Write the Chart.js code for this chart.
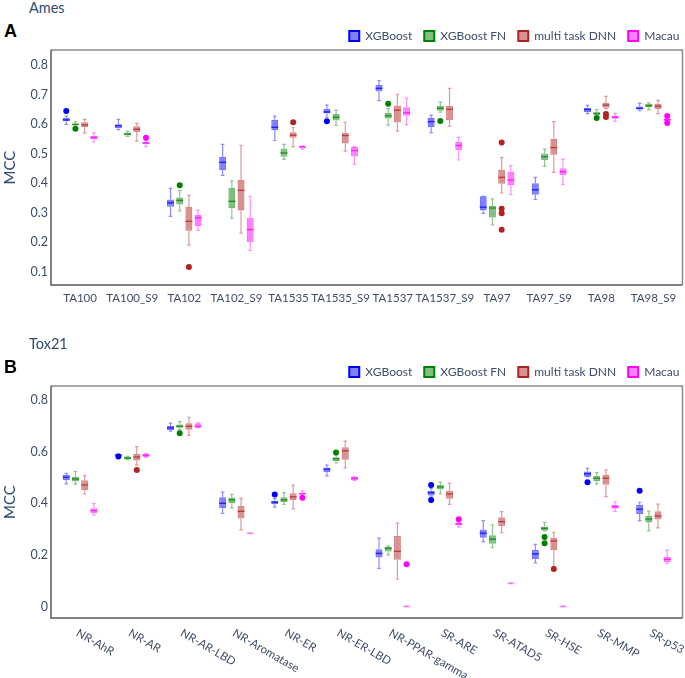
<!DOCTYPE html>
<html>
<head>
<meta charset="utf-8">
<script src="https://cdn.jsdelivr.net/npm/chart.js@4.4.1/dist/chart.umd.min.js"></script>
<style>
  html, body { margin: 0; padding: 0; background: #ffffff; }
  #page { position: relative; width: 685px; height: 678px; overflow: hidden; background: #fff; }
  .box { position: absolute; left: 0; width: 685px; }
  .ptitle { position: absolute; left: 29px; font: 14.5px Lato, "Open Sans", sans-serif; line-height: 16px; color: #2f4b72; }
  .letter { position: absolute; left: 4px; font: bold 18px "Liberation Sans", Arial, sans-serif; line-height: 18px; color: #000; }
</style>
</head>
<body>
<div id="page">
  <div class="ptitle" style="top:0px">Ames</div>
  <div class="letter" style="top:22px">A</div>
  <div class="box" style="top:0px;height:336px"><canvas id="chartA"></canvas></div>
  <div class="ptitle" style="top:336px">Tox21</div>
  <div class="letter" style="top:358px">B</div>
  <div class="box" style="top:336px;height:342px"><canvas id="chartB"></canvas></div>
</div>
<script>
// ---------------- Panel A: Ames ----------------
const amesCategories = ['TA100','TA100_S9','TA102','TA102_S9','TA1535','TA1535_S9','TA1537','TA1537_S9','TA97','TA97_S9','TA98','TA98_S9'];
const amesYTicks = [0.1,0.2,0.3,0.4,0.5,0.6,0.7,0.8];
// each entry: [lower whisker, Q1, median, Q3, upper whisker]
const amesXGBoost = [
  [0.600,0.610,0.615,0.622,0.628],[0.582,0.587,0.595,0.600,0.617],[0.288,0.320,0.334,0.345,0.383],[0.427,0.444,0.471,0.490,0.532],
  [0.545,0.580,0.590,0.615,0.628],[0.624,0.637,0.642,0.653,0.665],[0.680,0.711,0.722,0.733,0.748],[0.572,0.590,0.609,0.622,0.631],
  [0.298,0.308,0.319,0.356,0.356],[0.345,0.361,0.378,0.400,0.420],[0.636,0.642,0.650,0.656,0.664],[0.646,0.650,0.654,0.660,0.671]];
const amesXGBoostOut = [[0.645],[],[],[],[],[0.610],[],[],[],[],[],[]];
const amesXGBoostFN = [
  [0.595,0.597,0.600,0.602,0.608],[0.559,0.562,0.567,0.572,0.576],[0.306,0.328,0.342,0.352,0.376],[0.282,0.315,0.339,0.385,0.407],
  [0.481,0.490,0.503,0.518,0.532],[0.596,0.613,0.624,0.635,0.648],[0.597,0.620,0.629,0.638,0.653],[0.641,0.646,0.654,0.663,0.675],
  [0.259,0.284,0.316,0.323,0.347],[0.457,0.479,0.490,0.501,0.516],[0.628,0.631,0.637,0.641,0.650],[0.649,0.658,0.663,0.669,0.673]];
const amesXGBoostFNOut = [[0.585],[],[0.393],[],[],[],[0.670],[0.611],[],[],[0.621],[]];
const amesDNN = [
  [0.570,0.590,0.598,0.607,0.617],[0.543,0.574,0.583,0.593,0.603],[0.190,0.239,0.271,0.320,0.359],[0.231,0.308,0.376,0.411,0.529],
  [0.524,0.554,0.563,0.573,0.590],[0.509,0.535,0.562,0.571,0.607],[0.577,0.606,0.648,0.664,0.702],[0.594,0.615,0.651,0.662,0.722],
  [0.367,0.398,0.420,0.447,0.487],[0.437,0.497,0.521,0.551,0.609],[0.653,0.656,0.665,0.673,0.695],[0.636,0.652,0.661,0.670,0.681]];
const amesDNNOut = [[],[],[0.116],[],[0.607],[],[],[],[0.538,0.314,0.298,0.242],[],[0.635,0.625],[]];
const amesMacau = [
  [0.540,0.549,0.555,0.560,0.571],[0.524,0.532,0.537,0.541,0.545],[0.240,0.254,0.283,0.292,0.309],[0.172,0.201,0.243,0.282,0.356],
  [0.516,0.521,0.523,0.526,0.527],[0.464,0.491,0.511,0.524,0.524],[0.599,0.629,0.639,0.658,0.689],[0.479,0.512,0.528,0.541,0.556],
  [0.362,0.393,0.411,0.440,0.460],[0.396,0.427,0.439,0.451,0.482],[0.610,0.619,0.624,0.628,0.636],[0.610,0.611,0.616,0.619,0.620]];
const amesMacauOut = [[],[0.554],[],[],[],[],[],[],[],[],[],[0.628,0.604]];

// ---------------- Panel B: Tox21 ----------------
const toxCategories = ['NR-AhR','NR-AR','NR-AR-LBD','NR-Aromatase','NR-ER','NR-ER-LBD','NR-PPAR-gamma','SR-ARE','SR-ATAD5','SR-HSE','SR-MMP','SR-p53'];
const toxYTicks = [0,0.2,0.4,0.6,0.8];
const toxXGBoost = [
  [0.475,0.490,0.501,0.510,0.516],[0.584,0.585,0.587,0.589,0.590],[0.679,0.684,0.692,0.699,0.710],[0.361,0.381,0.400,0.423,0.443],
  [0.385,0.397,0.404,0.410,0.419],[0.506,0.520,0.532,0.539,0.548],[0.148,0.190,0.206,0.222,0.265],[0.428,0.430,0.441,0.449,0.458],
  [0.252,0.267,0.284,0.299,0.333],[0.169,0.183,0.204,0.219,0.241],[0.503,0.503,0.514,0.523,0.535],[0.333,0.359,0.377,0.394,0.404]];
const toxXGBoostOut = [[],[0.581],[],[],[0.434],[],[],[0.471,0.413],[],[],[0.481],[0.449]];
const toxXGBoostFN = [
  [0.474,0.485,0.494,0.503,0.523],[0.569,0.570,0.575,0.581,0.582],[0.684,0.692,0.698,0.705,0.716],[0.382,0.400,0.413,0.422,0.435],
  [0.396,0.405,0.413,0.423,0.441],[0.556,0.564,0.572,0.578,0.587],[0.200,0.213,0.226,0.232,0.235],[0.436,0.453,0.463,0.471,0.481],
  [0.228,0.243,0.261,0.276,0.317],[0.293,0.295,0.303,0.310,0.326],[0.475,0.486,0.497,0.506,0.519],[0.293,0.326,0.339,0.352,0.370]];
const toxXGBoostFNOut = [[],[],[0.671],[],[],[0.597],[],[],[],[0.270,0.245],[],[]];
const toxDNN = [
  [0.436,0.450,0.471,0.489,0.507],[0.548,0.566,0.579,0.591,0.619],[0.663,0.685,0.698,0.710,0.733],[0.297,0.341,0.369,0.390,0.419],
  [0.379,0.412,0.425,0.439,0.470],[0.537,0.569,0.603,0.617,0.641],[0.106,0.181,0.214,0.274,0.323],[0.396,0.418,0.436,0.448,0.477],
  [0.286,0.312,0.329,0.346,0.368],[0.155,0.219,0.254,0.267,0.288],[0.426,0.472,0.497,0.510,0.529],[0.305,0.337,0.351,0.369,0.397]];
const toxDNNOut = [[],[0.529],[],[],[],[],[],[],[],[0.146],[],[]];
const toxMacau = [
  [0.355,0.361,0.372,0.381,0.399],[0.578,0.579,0.586,0.591,0.592],[0.693,0.694,0.697,0.710,0.711],[0.284,0.284,0.284,0.284,0.284],
  [0.430,0.434,0.437,0.441,0.448],[0.489,0.489,0.497,0.503,0.503],[0.001,0.001,0.001,0.001,0.001],[0.308,0.315,0.320,0.324,0.326],
  [0.090,0.090,0.090,0.090,0.090],[0.001,0.001,0.001,0.001,0.001],[0.369,0.379,0.387,0.394,0.406],[0.166,0.173,0.183,0.192,0.219]];
const toxMacauOut = [[],[],[],[],[0.421],[],[0.164],[0.338],[],[],[],[]];

const seriesNames = ['XGBoost','XGBoost FN','multi task DNN','Macau'];
const seriesRGB = [[0,0,255],[0,128,0],[178,34,34],[255,0,255]];

const TEXT = '#3d4d6a';
const FONT = 'Lato, "Open Sans", sans-serif';
const rgba = (c,a) => `rgba(${c[0]},${c[1]},${c[2]},${a})`;

function makeDatasets(stats, outs) {
  return stats.map((s, k) => ({
    label: seriesNames[k],
    data: s.map(t => [t[1], t[3]]),
    boxStats: s,
    outliers: outs[k],
    rgb: seriesRGB[k],
    backgroundColor: rgba(seriesRGB[k], 0.5),
    borderColor: rgba(seriesRGB[k], 0.55),
    borderWidth: 1.3,
    borderSkipped: false,
    categoryPercentage: 0.706,
    barPercentage: 0.76
  }));
}

const boxPlugin = {
  id: 'boxWhiskers',
  beforeDatasetsDraw(chart) {
    const ctx = chart.ctx, y = chart.scales.y;
    chart.data.datasets.forEach((ds, d) => {
      const meta = chart.getDatasetMeta(d);
      meta.data.forEach((bar, i) => {
        const t = ds.boxStats[i];
        const x = bar.x, cw = bar.width * 0.5;
        ctx.save();
        ctx.strokeStyle = rgba(ds.rgb, 0.45);
        ctx.lineWidth = 1.2;
        ctx.beginPath();
        ctx.moveTo(x, y.getPixelForValue(t[4])); ctx.lineTo(x, y.getPixelForValue(t[3]));
        ctx.moveTo(x, y.getPixelForValue(t[1])); ctx.lineTo(x, y.getPixelForValue(t[0]));
        ctx.moveTo(x - cw/2, y.getPixelForValue(t[4])); ctx.lineTo(x + cw/2, y.getPixelForValue(t[4]));
        ctx.moveTo(x - cw/2, y.getPixelForValue(t[0])); ctx.lineTo(x + cw/2, y.getPixelForValue(t[0]));
        ctx.stroke();
        ctx.restore();
      });
    });
  },
  afterDatasetsDraw(chart) {
    const ctx = chart.ctx, y = chart.scales.y;
    chart.data.datasets.forEach((ds, d) => {
      const meta = chart.getDatasetMeta(d);
      meta.data.forEach((bar, i) => {
        const t = ds.boxStats[i];
        const x = bar.x, w = bar.width;
        const flat = t[0] === t[4];
        ctx.save();
        ctx.strokeStyle = flat ? rgba(ds.rgb, 0.35) : rgba(ds.rgb, 0.75);
        ctx.lineWidth = flat ? 2 : 1.4;
        ctx.beginPath();
        const ym = y.getPixelForValue(t[2]);
        ctx.moveTo(x - w/2, ym); ctx.lineTo(x + w/2, ym);
        ctx.stroke();
        ctx.fillStyle = rgba(ds.rgb, 1);
        (ds.outliers[i] || []).forEach(v => {
          ctx.beginPath();
          ctx.arc(x, y.getPixelForValue(v), 3, 0, Math.PI * 2);
          ctx.fill();
        });
        ctx.restore();
      });
    });
  },
  afterLayout(chart) {
    const lg = chart.legend;
    if (lg) { lg.left += 12; lg.right += 12; lg.top += 2; lg.bottom += 2; }
  },
  afterDraw(chart) {
    const ctx = chart.ctx, a = chart.chartArea;
    ctx.save();
    ctx.lineWidth = 1.5;
    ctx.strokeStyle = '#8a8a8a';
    ctx.beginPath();
    ctx.moveTo(a.left - 3, a.top); ctx.lineTo(a.right + 3, a.top); ctx.lineTo(a.right + 3, a.bottom);
    ctx.stroke();
    ctx.strokeStyle = '#5a5a5a';
    ctx.beginPath();
    ctx.moveTo(a.left - 3, a.top); ctx.lineTo(a.left - 3, a.bottom); ctx.lineTo(a.right + 3, a.bottom);
    ctx.stroke();
    if (chart.options.plugins.slantLabels) {
      const xs = chart.scales.x;
      ctx.fillStyle = TEXT;
      ctx.font = '11.5px ' + FONT;
      ctx.textAlign = 'left';
      ctx.textBaseline = 'top';
      chart.data.labels.forEach((lab, i) => {
        ctx.save();
        ctx.translate(xs.getPixelForValue(i), a.bottom + 9);
        ctx.rotate(Math.PI / 6);
        ctx.fillText(lab, 0, 0);
        ctx.restore();
      });
    }
    ctx.restore();
  }
};

function makeChart(id, labels, datasets, yMin, yMax, yTicks, slant, bottomPad) {
  return new Chart(document.getElementById(id), {
    type: 'bar',
    data: { labels, datasets },
    plugins: [boxPlugin],
    options: {
      responsive: true,
      maintainAspectRatio: false,
      animation: false,
      layout: { padding: { left: 0, right: 5.5, top: 16, bottom: bottomPad } },
      plugins: {
        slantLabels: slant,
        tooltip: { enabled: false },
        legend: {
          position: 'top',
          align: 'end',
          labels: {
            boxWidth: 10, boxHeight: 10, padding: 12, color: TEXT,
            font: { size: 12, family: FONT },
            generateLabels: (c) => c.data.datasets.map((ds, i) => ({
              text: ds.label, fillStyle: rgba(ds.rgb, 0.5), strokeStyle: rgba(ds.rgb, 1),
              lineWidth: 2, hidden: false, datasetIndex: i, fontColor: TEXT
            }))
          }
        }
      },
      scales: {
        x: {
          grid: { display: false, drawTicks: false },
          border: { display: false },
          ticks: { display: !slant, color: TEXT, font: { size: 11.5, family: FONT }, padding: 6, maxRotation: 0, minRotation: 0, autoSkip: false }
        },
        y: {
          min: yMin, max: yMax,
          grid: { display: false, drawTicks: false },
          border: { display: false },
          afterFit: (s) => { s.width = 54; },
          afterBuildTicks: (s) => { s.ticks = yTicks.map(v => ({ value: v })); },
          ticks: { color: TEXT, font: { size: 12.5, family: FONT }, padding: 6, callback: (v) => String(+Number(v).toFixed(2)) },
          title: { display: true, text: 'MCC', color: '#2f4b72', font: { size: 15, family: FONT }, padding: { top: 1, bottom: 0 } }
        }
      }
    }
  });
}

makeChart('chartA', amesCategories,
  makeDatasets([amesXGBoost, amesXGBoostFN, amesDNN, amesMacau], [amesXGBoostOut, amesXGBoostFNOut, amesDNNOut, amesMacauOut]),
  0.055, 0.852, amesYTicks, false, 25.2);
makeChart('chartB', toxCategories,
  makeDatasets([toxXGBoost, toxXGBoostFN, toxDNN, toxMacau], [toxXGBoostOut, toxXGBoostFNOut, toxDNNOut, toxMacauOut]),
  -0.044, 0.854, toxYTicks, true, 60);
</script>
</body>
</html>
